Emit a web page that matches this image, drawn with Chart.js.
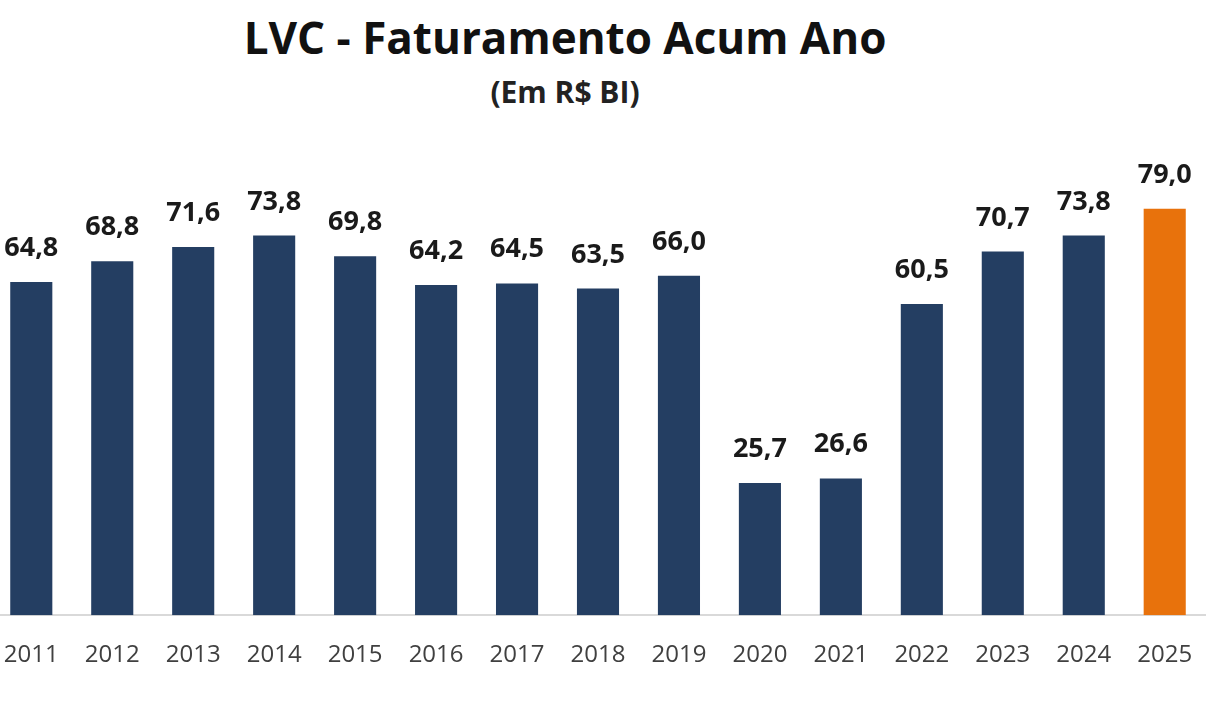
<!DOCTYPE html>
<html>
<head>
<meta charset="utf-8">
<script src="https://cdn.jsdelivr.net/npm/chart.js@4"></script>
<style>
  body { margin:0; background:#fff; width:1206px; height:720px; overflow:hidden; position:relative; font-family:"Open Sans", sans-serif; }
  #title { position:absolute; left:0; width:1130px; top:9px; text-align:center; font-size:44px; font-weight:700; color:#111; line-height:56px; }
  #subtitle { position:absolute; left:0; width:1130px; top:73px; text-align:center; font-size:30px; font-weight:700; color:#222; line-height:38px; }
  #barChart { position:absolute; left:-14px; top:0; }
</style>
</head>
<body>
<div id="title">LVC - Faturamento Acum Ano</div>
<div id="subtitle">(Em R$ BI)</div>
<canvas id="barChart" width="1224" height="720"></canvas>
<script>
years = ['2011','2012','2013','2014','2015','2016','2017','2018','2019','2020','2021','2022','2023','2024','2025'];
faturamento = [64.8, 68.8, 71.6, 73.8, 69.8, 64.2, 64.5, 63.5, 66.0, 25.7, 26.6, 60.5, 70.7, 73.8, 79.0];

colors = [];
for (var i = 0; i < years.length; i++) {
    colors.push(i == years.length - 1 ? '#E8720C' : '#243E62');
}

// rotulos em cima das barras
var valueLabels = {
    id: 'valueLabels',
    afterDatasetsDraw: function(chart) {
        var ctx = chart.ctx;
        var meta = chart.getDatasetMeta(0);
        ctx.save();
        ctx.font = 'bold 27px "Open Sans"';
        ctx.fillStyle = '#1a1a1a';
        ctx.textAlign = 'center';
        ctx.textBaseline = 'alphabetic';
        meta.data.forEach(function(bar, ind) {
            var txt = faturamento[ind].toFixed(1).replace('.', ',');
            ctx.fillText(txt, bar.x, bar.y - 26);
        });
        ctx.restore();
    }
};

var ctx = document.getElementById('barChart').getContext('2d');
var barChart = new Chart(ctx, {
    type: 'bar',
    data: {
        labels: years,
        datasets: [{
            data: faturamento,
            backgroundColor: colors,
            barPercentage: 0.52,
            categoryPercentage: 1.0
        }]
    },
    options: {
        responsive: false,
        animation: false,
        layout: { padding: { top: 178, left: 0, right: 0, bottom: 32 } },
        plugins: {
            legend: { display: false },
            tooltip: { enabled: false }
        },
        scales: {
            x: {
                grid: { display: false },
                border: { display: true, color: '#d9d9d9', width: 2 },
                ticks: { color: '#404040', font: { family: 'Open Sans', size: 24 }, padding: 18 }
            },
            y: {
                display: false,
                min: 0,
                max: 85
            }
        }
    },
    plugins: [valueLabels]
});
</script>
</body>
</html>
